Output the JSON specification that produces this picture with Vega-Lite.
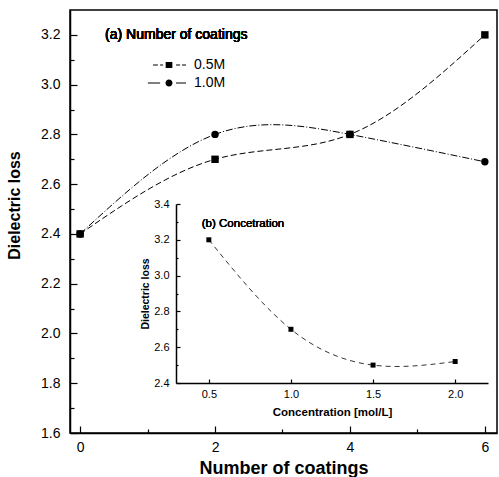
{
  "$schema": "https://vega.github.io/schema/vega-lite/v6.json",
  "width": 427,
  "height": 423,
  "autosize": "none",
  "padding": {"left": 70, "top": 10, "right": 2, "bottom": 44},
  "background": "white",
  "config": {
    "font": "Liberation Sans",
    "view": {"stroke": "black", "strokeWidth": 1.5},
    "axis": {"grid": false, "domainColor": "black", "tickColor": "black", "labelColor": "black", "titleColor": "black", "domainWidth": 1.5, "tickWidth": 1.2}
  },
  "datasets": {
    "coatings": [
      {"series": "0.5M", "coatings": 0, "loss": 2.4},
      {"series": "0.5M", "coatings": 2, "loss": 2.7},
      {"series": "0.5M", "coatings": 4, "loss": 2.8},
      {"series": "0.5M", "coatings": 6, "loss": 3.2},
      {"series": "1.0M", "coatings": 0, "loss": 2.4},
      {"series": "1.0M", "coatings": 2, "loss": 2.8},
      {"series": "1.0M", "coatings": 4, "loss": 2.8},
      {"series": "1.0M", "coatings": 6, "loss": 2.69}
    ],
    "conc": [
      {"conc": 0.5, "loss": 3.2},
      {"conc": 1.0, "loss": 2.7},
      {"conc": 1.5, "loss": 2.5},
      {"conc": 2.0, "loss": 2.52}
    ]
  },
  "layer": [
    {
      "data": {"name": "coatings"},
      "encoding": {
        "x": {
          "field": "coatings", "type": "quantitative",
          "scale": {"domain": [-0.15, 6.18], "nice": false, "zero": false},
          "axis": {
            "orient": "bottom",
            "values": [0, 1, 2, 3, 4, 5, 6],
            "labelExpr": "datum.value % 2 == 0 ? datum.value : ''",
            "tickSize": {"condition": {"test": "datum.value % 2 == 1", "value": -4}, "value": -7},
            "labelPadding": 14,
            "labelFontSize": 14,
            "title": "Number of coatings",
            "titleFontSize": 18,
            "titleFontWeight": "bold",
            "titleY": 26
          }
        },
        "y": {
          "field": "loss", "type": "quantitative",
          "scale": {"domain": [1.6, 3.3], "nice": false, "zero": false},
          "axis": {
            "orient": "left",
            "values": [1.6, 1.7, 1.8, 1.9, 2.0, 2.1, 2.2, 2.3, 2.4, 2.5, 2.6, 2.7, 2.8, 2.9, 3.0, 3.1, 3.2],
            "labelExpr": "round(datum.value * 10) % 2 == 0 ? format(datum.value, '.1f') : ''",
            "tickSize": {"condition": {"test": "round(datum.value * 10) % 2 == 1", "value": -4}, "value": -7},
            "labelPadding": 17,
            "labelFontSize": 14,
            "title": "Dielectric loss",
            "titleFontSize": 16,
            "titleFontWeight": "bold",
            "titleX": -48,
            "titleY": 195
          }
        }
      },
      "layer": [
        {
          "transform": [{"filter": "datum.series == '0.5M'"}],
          "mark": {"type": "line", "interpolate": "natural", "color": "black", "strokeWidth": 1, "strokeDash": [6, 3]}
        },
        {
          "transform": [{"filter": "datum.series == '1.0M'"}],
          "mark": {"type": "line", "interpolate": "natural", "color": "black", "strokeWidth": 1, "strokeDash": [7, 2, 1, 2]}
        },
        {
          "mark": {"type": "point", "filled": true, "color": "black", "opacity": 1, "size": 55},
          "encoding": {
            "shape": {
              "field": "series", "type": "nominal",
              "scale": {"domain": ["0.5M", "1.0M"], "range": ["square", "circle"]},
              "legend": null
            }
          }
        },
        {
          "mark": {"type": "text", "text": "(a) Number of coatings", "align": "left", "baseline": "middle", "fontSize": 14, "color": "black"},
          "encoding": {"x": {"datum": 0.37}, "y": {"datum": 3.2}}
        }
      ]
    },
    {
      "data": {"name": "coatings"},
      "mark": {"type": "point", "filled": true, "opacity": 0, "color": "black"},
      "encoding": {
        "shape": {
          "field": "series", "type": "nominal",
          "scale": {"domain": ["0.5M", "1.0M"], "range": [
            "M-4.3,-0.15H-3.0V0.15H-4.3Z M-2.4,-0.15H-1.6V0.15H-2.4Z M-0.9,-0.8H0.9V0.8H-0.9Z M1.9,-0.15H3.0V0.15H1.9Z M3.5,-0.15H4.6V0.15H3.5Z",
            "M-5.7,-0.15H-2.4V0.15H-5.7Z M-0.95,0A0.95,0.95 0 1,0 0.95,0A0.95,0.95 0 1,0 -0.95,0Z M1.9,-0.15H4.6V0.15H1.9Z"
          ]},
          "legend": {
            "orient": "none", "legendX": 92, "legendY": 48, "title": null,
            "labelFontSize": 14, "labelOffset": 18, "symbolSize": 55,
            "symbolFillColor": "black", "symbolStrokeColor": "black", "symbolStrokeWidth": 0,
            "symbolOpacity": 1, "rowPadding": 4
          }
        }
      }
    },
    {
      "data": {"name": "conc"},
      "encoding": {
        "x": {
          "field": "conc", "type": "quantitative",
          "scale": {"domain": [0.3, 2.2], "range": [106, 418], "nice": false, "zero": false},
          "axis": {
            "orient": "bottom", "offset": -50,
            "values": [0.5, 1.0, 1.5, 2.0], "format": ".1f",
            "tickSize": -4, "labelPadding": 9, "labelFontSize": 11,
            "title": "Concentration [mol/L]", "titleFontSize": 11.5, "titleFontWeight": "bold",
            "titlePadding": 7
          }
        },
        "y": {
          "field": "loss", "type": "quantitative",
          "scale": {"domain": [2.4, 3.4], "range": [373, 194], "nice": false, "zero": false},
          "axis": {
            "orient": "left", "offset": -106,
            "values": [2.4, 2.5, 2.6, 2.7, 2.8, 2.9, 3.0, 3.1, 3.2, 3.3, 3.4],
            "labelExpr": "round(datum.value * 10) % 2 == 0 ? format(datum.value, '.1f') : ''",
            "tickSize": {"condition": {"test": "round(datum.value * 10) % 2 == 1", "value": -2}, "value": -4},
            "labelPadding": 11, "labelFontSize": 11,
            "title": "Dielectric loss", "titleFontSize": 10.5, "titleFontWeight": "bold",
            "titlePadding": 3
          }
        }
      },
      "layer": [
        {
          "data": {"values": [{}]},
          "mark": {"type": "rect", "fill": "white", "stroke": "black", "strokeWidth": 1.5},
          "encoding": {"x": {"datum": 0.3}, "x2": {"datum": 2.2}, "y": {"datum": 2.4}, "y2": {"datum": 3.4}}
        },
        {
          "mark": {"type": "line", "interpolate": "natural", "color": "black", "strokeWidth": 0.8, "strokeDash": [5, 4]}
        },
        {
          "mark": {"type": "point", "shape": "square", "filled": true, "color": "black", "opacity": 1, "size": 25}
        },
        {
          "mark": {"type": "text", "text": "(b) Concetration", "align": "left", "baseline": "middle", "fontSize": 11.5, "color": "black"},
          "encoding": {"x": {"datum": 0.457}, "y": {"datum": 3.29}}
        }
      ]
    }
  ],
  "resolve": {"scale": {"x": "independent", "y": "independent", "shape": "independent"}}
}
